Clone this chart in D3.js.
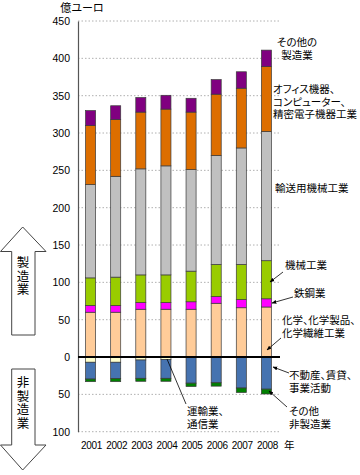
<!DOCTYPE html>
<html><head><meta charset="utf-8">
<script src="https://cdn.jsdelivr.net/npm/d3@7"></script>
<style>
html,body{margin:0;padding:0;background:#fff;}
svg{display:block;}
text{font-family:"Liberation Sans",Arial,"Noto Sans CJK JP",sans-serif;}
.jp{font-family:"Noto Sans CJK JP",sans-serif;font-feature-settings:"palt";}
.vt{font-family:"Noto Sans CJK JP",sans-serif;writing-mode:vertical-rl;}
</style></head>
<body>
<script>
// ---- data ----
const years = ["2001","2002","2003","2004","2005","2006","2007","2008"];
const chemical   = [60, 60, 64, 64, 64, 72, 66, 67];
const steel      = [9, 9, 9, 9, 10, 9, 11, 11];
const machinery  = [37, 38, 37, 37, 41, 43, 47, 51];
const transport  = [125, 135, 142, 146, 136, 146, 156, 173];
const office     = [79, 76, 76, 76, 77, 82, 80, 87];
const otherMfg   = [20, 18.5, 19.5, 18.5, 18.5, 19.5, 22, 22];
const transComm  = [-7, -7, -4, -3.5, 0, 0, 0, 0];
const realEstate = [-22.5, -22, -24.5, -25, -35, -34.5, -41.5, -43];
const otherNon   = [-3.5, -4, -4, -4, -4.5, -4.5, -6, -6.5];
const yTicks = [-100, -50, 0, 50, 100, 150, 200, 250, 300, 350, 400, 450];

const seriesDefs = [
  {key:"chemical", vals:chemical, color:"#FFCC99"},
  {key:"steel", vals:steel, color:"#FF00FF"},
  {key:"machinery", vals:machinery, color:"#99CC00"},
  {key:"transport", vals:transport, color:"#C0C0C0"},
  {key:"office", vals:office, color:"#DD6E00"},
  {key:"otherMfg", vals:otherMfg, color:"#800080"},
  {key:"transComm", vals:transComm, color:"#FFFFCC"},
  {key:"realEstate", vals:realEstate, color:"#4673B0"},
  {key:"otherNon", vals:otherNon, color:"#008000"}
];

const table = years.map((y,i)=>{
  const o = {year:y};
  seriesDefs.forEach(s=>o[s.key]=s.vals[i]);
  return o;
});

const W=360,H=475;
const svg = d3.select("body").append("svg").attr("width",W).attr("height",H);

const x = d3.scaleBand().domain(years).range([78,279]).paddingInner(0.6).paddingOuter(0.3);
const y = d3.scaleLinear().domain([-100,450]).range([431.7,21]);

// gridlines
svg.append("g").selectAll("line").data(yTicks.filter(t=>t!==0)).join("line")
  .attr("x1",78).attr("x2",280).attr("y1",d=>y(d)).attr("y2",d=>y(d))
  .attr("stroke","#b0b0b0").attr("stroke-width",1).attr("stroke-dasharray","1.5,2");

// stacked bars
const stack = d3.stack().keys(seriesDefs.map(s=>s.key)).offset(d3.stackOffsetDiverging);
const stacked = stack(table);
const colorOf = Object.fromEntries(seriesDefs.map(s=>[s.key,s.color]));
svg.append("g").selectAll("g").data(stacked).join("g")
  .attr("fill",d=>colorOf[d.key])
  .selectAll("rect").data(d=>d).join("rect")
  .attr("x",d=>x(d.data.year)).attr("width",x.bandwidth())
  .attr("y",d=>y(Math.max(d[0],d[1])))
  .attr("height",d=>Math.abs(y(d[0])-y(d[1])))
  .attr("stroke","#3a3a3a").attr("stroke-width",0.7);

// y axis
const yAxis = d3.axisLeft(y).tickValues(yTicks).tickSize(0).tickFormat(d=>Math.abs(d));
const ga = svg.append("g").attr("transform","translate(78,0)").call(yAxis);
ga.select(".domain").attr("stroke","#555").attr("stroke-width",1.2);
ga.selectAll("text").attr("x",-8).attr("font-size",10.5).attr("fill","#000")
  .attr("font-family","'Liberation Sans',Arial,sans-serif");
// zero line
svg.append("line").attr("x1",78).attr("x2",280).attr("y1",y(0)).attr("y2",y(0))
  .attr("stroke","#000").attr("stroke-width",2);

// x labels
svg.append("g").selectAll("text").data(years).join("text")
  .attr("x",d=>x(d)+x.bandwidth()/2+1).attr("y",449)
  .attr("text-anchor","middle").attr("font-size",10).attr("letter-spacing",-0.3).text(d=>d);
svg.append("text").attr("class","jp").attr("x",284).attr("y",449).attr("font-size",10.5).text("年");

// y title
svg.append("text").attr("class","jp").attr("x",82).attr("y",12).attr("text-anchor","middle")
  .attr("font-size",11).text("億ユーロ");

// defs marker
svg.append("defs").append("marker").attr("id","ah").attr("viewBox","0 0 10 10")
  .attr("refX",9).attr("refY",5).attr("markerWidth",6).attr("markerHeight",6).attr("orient","auto")
  .append("path").attr("d","M0,1 L10,5 L0,9 z").attr("fill","#000");

function label(lines,xp,yp,anchor){
  const t = svg.append("text").attr("class","jp").attr("font-size",10.5).attr("text-anchor",anchor||"start");
  lines.forEach((l,i)=>t.append("tspan").attr("x",xp).attr("y",yp+i*12.5).text(l));
}
function arrow(x1,y1,x2,y2){
  svg.append("line").attr("x1",x1).attr("y1",y1).attr("x2",x2).attr("y2",y2)
    .attr("stroke","#000").attr("stroke-width",0.8).attr("marker-end","url(#ah)");
}
label(["その他の","製造業"],297,46,"middle");
label(["オフィス機器、","コンピューター、","精密電子機器工業"],273,93);
label(["輸送用機械工業"],275,192);
label(["機械工業"],285,269);
arrow(283,272,270,282);
label(["鉄鋼業"],294,297);
arrow(293,297,272,303);
label(["化学、化学製品、","化学繊維工業"],282,324);
arrow(281,338,267,350);
label(["不動産、賃貸、","事業活動"],289,379);
arrow(289,373,273,367);
label(["その他","非製造業"],289,415);
arrow(287,407,269,391);
label(["運輸業、","通信業"],187,415);
svg.append("line").attr("x1",167).attr("y1",359).attr("x2",186).attr("y2",404)
  .attr("stroke","#000").attr("stroke-width",0.8);

// big arrows
svg.append("path").attr("d","M22.7,227 L46,251.5 L35,251.5 L35,335 L11.7,335 L11.7,251.5 L0.5,251.5 Z")
  .attr("fill","#fff").attr("stroke","#444").attr("stroke-width",1);
svg.append("path").attr("d","M11.7,369 L35,369 L35,445 L46,445 L22.7,470 L0.5,445 L11.7,445 Z")
  .attr("fill","#fff").attr("stroke","#444").attr("stroke-width",1);
svg.append("text").attr("class","vt").attr("x",23).attr("y",256)
  .attr("font-size",12.5).attr("letter-spacing",1).text("製造業");
svg.append("text").attr("class","vt").attr("x",23).attr("y",376)
  .attr("font-size",12.5).attr("letter-spacing",1).text("非製造業");
</script>
</body></html>
